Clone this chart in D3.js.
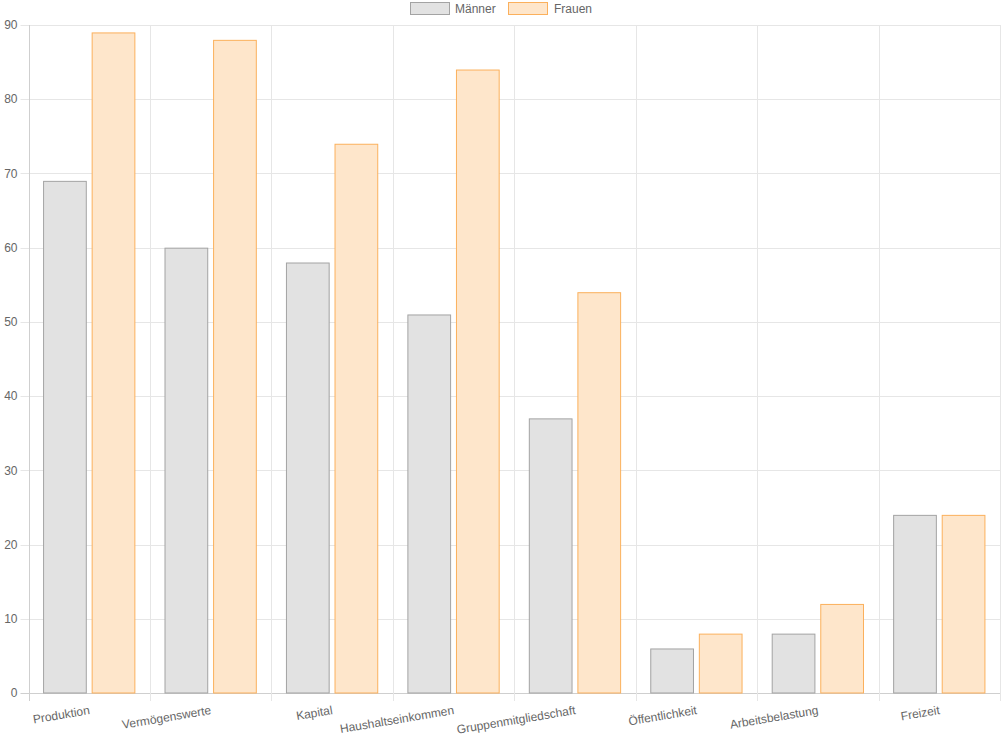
<!DOCTYPE html>
<html><head><meta charset="utf-8">
<script src="https://cdn.jsdelivr.net/npm/d3@7"></script>
<style>body{margin:0;background:#fff}svg{display:block;font-family:"Liberation Sans",Arial,Helvetica,sans-serif}</style>
</head><body>
<svg id="c" width="1005" height="740"></svg>
<script>
const categories = ["Produktion","Vermögenswerte","Kapital","Haushaltseinkommen","Gruppenmitgliedschaft","Öffentlichkeit","Arbeitsbelastung","Freizeit"];
const seriesNames = ["Männer","Frauen"];
const maennerValues = [69,60,58,51,37,6,8,24];
const frauenValues = [89,88,74,84,54,8,12,24];
const yTicks = [0,10,20,30,40,50,60,70,80,90];

const fills = ["#e2e2e2","#fee6cb"];
const strokes = ["#a3a3a3","#fbb05c"];
const series = [maennerValues, frauenValues];

const svg = d3.select("#c");
const L = 28.5, R = 1000, T = 25, B = 693;
const x = d3.scaleBand().domain(categories).range([L, R]).paddingInner(0).paddingOuter(0);
const y = d3.scaleLinear().domain([0, 90]).range([B, T]);
const inner = d3.scaleBand().domain(seriesNames).range([0, x.bandwidth()]).paddingOuter(0.25).paddingInner(0);
const barW = inner.bandwidth() * 0.9;

// horizontal grid
svg.append("g").selectAll("line").data(yTicks).join("line")
  .attr("x1", L - 8).attr("x2", R)
  .attr("y1", d => Math.round(y(d)) + 0.5).attr("y2", d => Math.round(y(d)) + 0.5)
  .attr("stroke", d => d === 0 ? "#cfcfcf" : "#e6e6e6").attr("stroke-width", 1);
// vertical grid
const vx = categories.map(c => x(c)).concat([R]);
svg.append("g").selectAll("line").data(vx).join("line")
  .attr("x1", d => Math.round(d) + 0.5).attr("x2", d => Math.round(d) + 0.5)
  .attr("y1", T).attr("y2", B + 8)
  .attr("stroke", (d, i) => i === 0 ? "#cfcfcf" : "#e6e6e6").attr("stroke-width", 1);

// y labels
svg.append("g").selectAll("text").data(yTicks).join("text")
  .attr("x", L - 11).attr("y", d => y(d)).attr("dy", "0.35em")
  .attr("text-anchor", "end").attr("font-size", 12).attr("fill", "#666")
  .text(d => d);

// bars
seriesNames.forEach((s, si) => {
  svg.append("g").selectAll("rect").data(series[si]).join("rect")
    .attr("x", (d, i) => x(categories[i]) + inner(s) + (inner.bandwidth() - barW) / 2 + 0.5)
    .attr("width", barW - 1)
    .attr("y", d => y(d) + 0.5)
    .attr("height", d => B - y(d) - 0.5)
    .attr("fill", fills[si]).attr("stroke", strokes[si]).attr("stroke-width", 1);
});

// x labels
svg.append("g").selectAll("text").data(categories).join("text")
  .attr("transform", c => `translate(${x(c) + x.bandwidth() / 2 + 1},${B + 21}) rotate(-9.5)`)
  .attr("text-anchor", "end").attr("font-size", 12).attr("fill", "#666")
  .text(c => c);

// legend
const lg = svg.append("g");
const items = [{n: seriesNames[0], bx: 410.5, tx: 455}, {n: seriesNames[1], bx: 508.5, tx: 554}];
items.forEach((it, i) => {
  lg.append("rect").attr("x", it.bx).attr("y", 2.5).attr("width", 39).attr("height", 12)
    .attr("fill", fills[i]).attr("stroke", strokes[i]).attr("stroke-width", 1);
  lg.append("text").attr("x", it.tx).attr("y", 9).attr("dy", "0.35em")
    .attr("font-size", 12).attr("fill", "#666").text(it.n);
});
</script>
</body></html>
